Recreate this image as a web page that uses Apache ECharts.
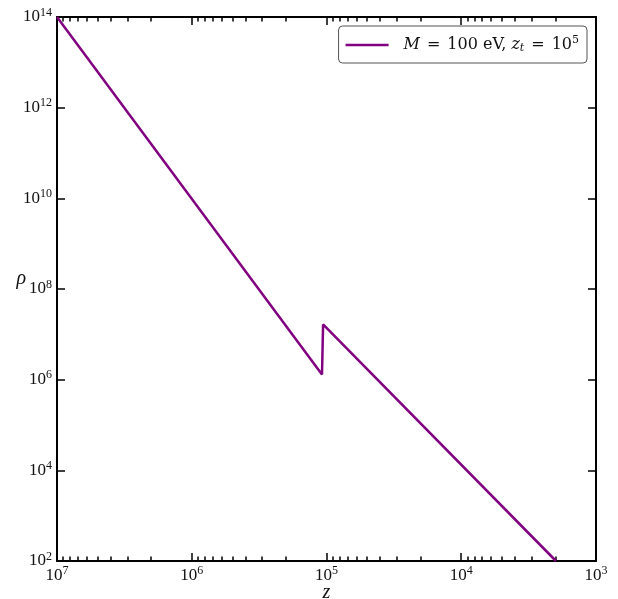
<!DOCTYPE html>
<html>
<head>
<meta charset="utf-8">
<script src="https://cdn.jsdelivr.net/npm/echarts@6/dist/echarts.min.js"></script>
<style>
  html, body { margin: 0; padding: 0; background: #fff; }
  #chart { width: 618px; height: 599px; }
</style>
</head>
<body>
<div id="chart"></div>
<script>
// Energy density versus redshift: z^4 scaling above the transition, z^3 below it
const zValues   = [1e7, 1.08e5, 1.06e5, 1.98e3];
const rhoValues = [1e14, 1.3e6, 1.65e7, 1e2];
const seriesName = 'M = 100 eV, z_t = 10^5';

// axis ranges (decades)
const zMin = 1e3, zMax = 1e7;
const rhoMin = 1e2, rhoMax = 1e14;

// minor tick values 2..9 x 10^k along z
const zMinorTicks = [];
for (let k = 3; k < 7; k++) {
  for (let m = 2; m <= 9; m++) zMinorTicks.push(m * Math.pow(10, k));
}

const FONT = '"Liberation Serif", "DejaVu Serif", serif';
const LEGEND_FONT = '"DejaVu Serif", "Liberation Serif", serif';
const INK = '#111';
const points = zValues.map((z, i) => [z, rhoValues[i]]);

const powRich = {
  b: { fontFamily: FONT, fontSize: 17, color: INK },
  s: { fontFamily: FONT, fontSize: 12, color: INK, padding: [0, 0, 9, 0] }
};
function powLabel(v) {
  const e = Math.round(Math.log10(v));
  return '{b|10}{s|' + e + '}';
}

const axisLine = { show: true, onZero: false, lineStyle: { color: '#000', width: 2 } };

function zAxis(pos, opts) {
  return Object.assign({
    type: 'log', logBase: 10, min: zMin, max: zMax, inverse: true,
    position: pos, interval: 1,
    axisLine: axisLine,
    splitLine: { show: false },
    axisLabel: { show: false },
    axisTick: { show: true, inside: true, length: 8, lineStyle: { color: '#000', width: 1.5 } }
  }, opts || {});
}
function zMinorAxis(pos) {
  return {
    type: 'log', logBase: 10, min: zMin, max: zMax, inverse: true,
    position: pos,
    axisLine: { show: false },
    splitLine: { show: false },
    axisLabel: { show: false },
    axisTick: { show: true, inside: true, length: 4.5, customValues: zMinorTicks,
                lineStyle: { color: '#000', width: 1.5 } }
  };
}
function rhoAxis(pos, opts) {
  return Object.assign({
    type: 'log', logBase: 10, min: rhoMin, max: rhoMax,
    position: pos, interval: 2,
    axisLine: axisLine,
    splitLine: { show: false },
    axisLabel: { show: false },
    axisTick: { show: true, inside: true, length: 8, lineStyle: { color: '#000', width: 1.5 } }
  }, opts || {});
}

const chart = echarts.init(document.getElementById('chart'), null, { renderer: 'canvas' });
chart.setOption({
  backgroundColor: '#fff',
  animation: false,
  grid: { left: 57, top: 17, width: 539, height: 544, outerBoundsMode: 'none' },
  legend: {
    right: 31, top: 26,
    padding: [9, 8, 9, 7],
    borderColor: '#555', borderWidth: 1, borderRadius: 4,
    backgroundColor: '#fff',
    itemWidth: 43, itemHeight: 2.5,
    icon: 'rect',
    formatter: function () {
      return '{i|M}{eq|=}100 eV, {i|z}{sb|t}{eq|=}10{sp|5}';
    },
    textStyle: {
      fontFamily: LEGEND_FONT, fontSize: 16, color: INK, padding: [0, 0, 0, 10],
      rich: {
        i: { fontFamily: LEGEND_FONT, fontSize: 16, fontStyle: 'italic', color: INK },
        eq: { fontFamily: LEGEND_FONT, fontSize: 16, color: INK, padding: [0, 7, 0, 7] },
        sb: { fontFamily: LEGEND_FONT, fontSize: 11, fontStyle: 'italic', color: INK, padding: [7, 0, 0, 0] },
        sp: { fontFamily: LEGEND_FONT, fontSize: 11, color: INK, padding: [0, 0, 9, 0] }
      }
    },
    data: [{ name: seriesName, icon: 'rect' }]
  },
  xAxis: [
    zAxis('bottom', {
      name: 'z', nameLocation: 'middle', nameGap: 22, nameMoveOverlap: false,
      nameTextStyle: { fontFamily: FONT, fontSize: 20, fontStyle: 'italic', color: INK },
      axisLabel: { show: true, margin: 4, formatter: powLabel, rich: powRich }
    }),
    zAxis('top'),
    zMinorAxis('bottom'),
    zMinorAxis('top')
  ],
  yAxis: [
    rhoAxis('left', {
      name: 'ρ', nameLocation: 'middle', nameGap: 31, nameRotate: 0, nameMoveOverlap: false,
      nameTextStyle: { fontFamily: FONT, fontSize: 20, fontStyle: 'italic', color: INK, verticalAlign: 'bottom' },
      axisLabel: { show: true, margin: 5, formatter: powLabel, rich: powRich }
    }),
    rhoAxis('right')
  ],
  series: [{
    name: seriesName,
    type: 'line',
    xAxisIndex: 0, yAxisIndex: 0,
    data: points,
    symbol: 'none', showSymbol: false,
    lineStyle: { color: '#800080', width: 2.5 },
    itemStyle: { color: '#800080' },
    clip: true
  }]
});
</script>
</body>
</html>
